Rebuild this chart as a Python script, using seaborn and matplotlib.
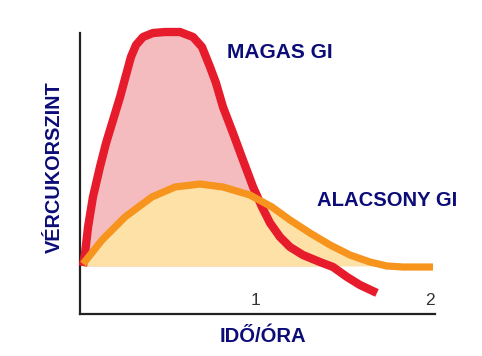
import numpy as np
import matplotlib
matplotlib.use("Agg")
import matplotlib.pyplot as plt
import seaborn as sns

# hours after the meal, blood sugar level (arbitrary units, resting level = 1)
high_gi_time = [0.017, 0.029, 0.046, 0.074, 0.114, 0.149, 0.189, 0.229, 0.263, 0.291,
                0.32, 0.36, 0.417, 0.486, 0.571, 0.646, 0.697, 0.743, 0.777, 0.817,
                0.874, 0.931, 0.989, 1.04, 1.086, 1.143, 1.2, 1.274, 1.371, 1.446,
                1.526, 1.6, 1.697]
high_gi_level = [1.0, 1.271, 1.813, 2.438, 3.063, 3.563, 4.042, 4.521, 4.979, 5.354,
                 5.604, 5.771, 5.854, 5.875, 5.875, 5.771, 5.563, 5.146, 4.813, 4.313,
                 3.771, 3.208, 2.646, 2.229, 1.896, 1.604, 1.396, 1.229, 1.083, 0.979,
                 0.771, 0.604, 0.438]
low_gi_time = [0.017, 0.126, 0.257, 0.411, 0.543, 0.686, 0.817, 0.971, 1.097, 1.2,
               1.314, 1.429, 1.543, 1.657, 1.754, 1.846, 2.017]
low_gi_level = [1.042, 1.542, 2.021, 2.438, 2.646, 2.708, 2.646, 2.479, 2.229, 1.958,
                1.688, 1.438, 1.229, 1.083, 1.0, 0.979, 0.979]
baseline = 1.0
tick_hours = [1, 2]
tick_labels = ["1", "2"]

NAVY = "#0c0c78"
RED = "#e61b2b"
ORANGE = "#f7941e"
PINK = "#f5bcbf"
YELLOW = "#fde1a6"

sns.set_style("white")
plt.rcParams['font.family'] = ['Liberation Sans', 'DejaVu Sans']

fig = plt.figure(figsize=(4.82, 3.56), dpi=100)
W, H = 482, 356
ax = fig.add_axes([80 / W, 1 - 314 / H, 355 / W, 299 / H])
ax.set_xlim(0, 355 / 175)
ax.set_ylim(0, 299 / 48)

hx = np.array(high_gi_time)
hy = np.array(high_gi_level)
lx = np.array(low_gi_time)
ly = np.array(low_gi_level)

ax.fill_between(hx, hy, baseline, where=hy >= baseline, interpolate=True,
                color=PINK, linewidth=0, zorder=1)
ax.fill_between(np.r_[0, lx], np.r_[baseline, ly], baseline, color=YELLOW,
                linewidth=0, zorder=2)

sns.lineplot(x=hx, y=hy, sort=False, color=RED, linewidth=6, ax=ax,
             solid_capstyle='butt', solid_joinstyle='round', zorder=3)
sns.lineplot(x=lx, y=ly, sort=False, color=ORANGE, linewidth=5.2, ax=ax,
             solid_capstyle='butt', solid_joinstyle='round', zorder=4)
for line in ax.lines:
    line.set_clip_on(False)

for s in ["top", "right"]:
    ax.spines[s].set_visible(False)
for s in ["left", "bottom"]:
    ax.spines[s].set_color("#222222")
    ax.spines[s].set_linewidth(1.6)
ax.spines["left"].set_bounds(0, 281 / 48)

ax.set_yticks([])
ax.set_xticks(tick_hours)
ax.set_xticklabels(tick_labels, fontsize=12.5, color="#333333")
ax.tick_params(axis='x', length=0, pad=-15)

ax.text(1.143, 5.45, "MAGAS GI", color=NAVY, fontsize=15, fontweight='bold',
        ha='center', va='center')
ax.text(1.754, 2.375, "ALACSONY GI", color=NAVY, fontsize=14.6, fontweight='bold',
        ha='center', va='center')

ax.set_xlabel("IDŐ/ÓRA", color=NAVY, fontsize=14.6, fontweight='bold')
ax.set_ylabel("VÉRCUKORSZINT", color=NAVY, fontsize=14.3, fontweight='bold')
ax.xaxis.label.set_va('baseline')
ax.xaxis.set_label_coords(0.515, (314 - 342) / 299)
ax.yaxis.label.set_va('baseline')
ax.yaxis.set_label_coords((60 - 80) / 355, (314 - 167) / 299)

fig.savefig("out.png", dpi=100, facecolor="white")
